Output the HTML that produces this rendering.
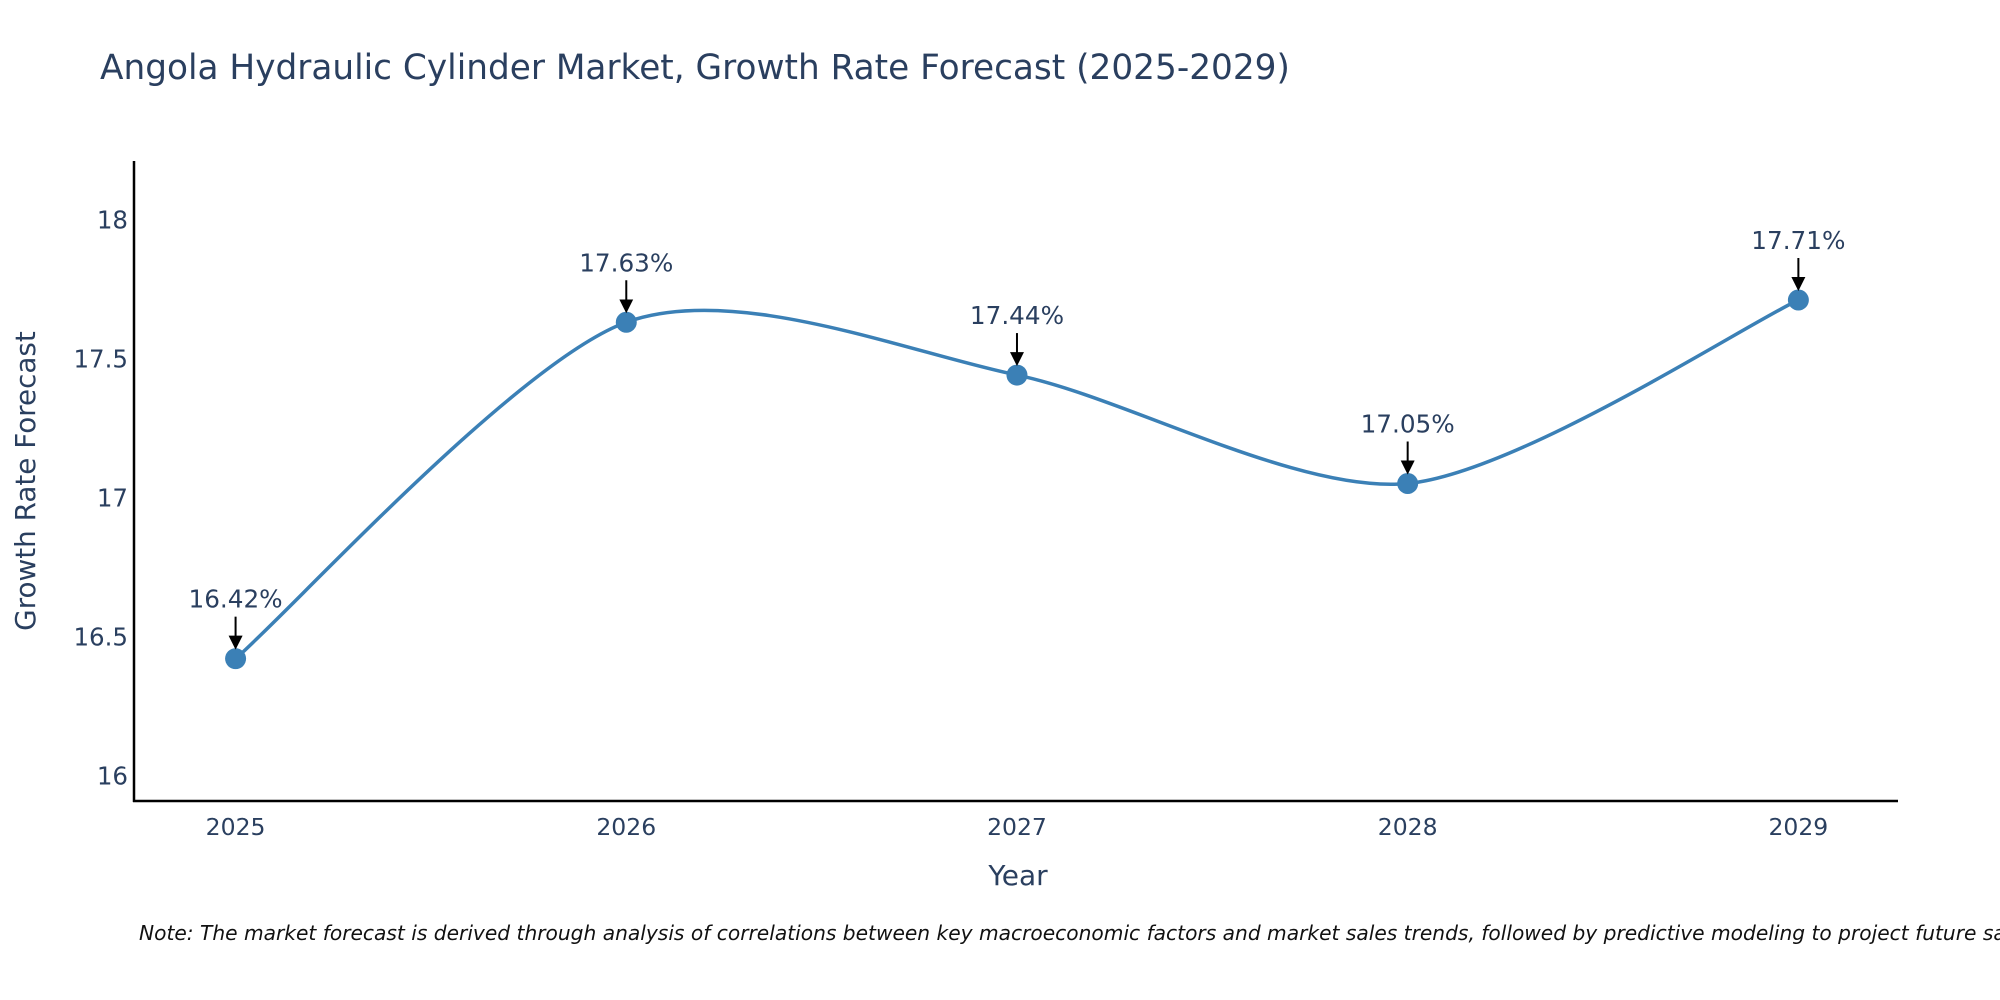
<!DOCTYPE html>
<html><head><meta charset="utf-8">
<style>
html,body{margin:0;padding:0;background:#fff;overflow:hidden;}
svg{display:block;font-family:"DejaVu Sans","Liberation Sans",sans-serif;}
</style></head>
<body>
<svg id="chart" width="2000" height="1000" viewBox="0 0 2000 1000" xmlns="http://www.w3.org/2000/svg">
<text x="100" y="79" font-size="34.3" fill="#2a3f5f">Angola Hydraulic Cylinder Market, Growth Rate Forecast (2025-2029)</text>
<g id="plot"></g>
<line x1="134" y1="161" x2="134" y2="802" stroke="#000" stroke-width="2.5"/>
<line x1="133" y1="801" x2="1898" y2="801" stroke="#000" stroke-width="2.5"/>
<text x="1018" y="885" font-size="28" fill="#2a3f5f" text-anchor="middle">Year</text>
<text transform="translate(35,481) rotate(-90)" font-size="27.8" fill="#2a3f5f" text-anchor="middle">Growth Rate Forecast</text>
<text x="139" y="940" font-size="20.2" font-style="italic" fill="#111">Note: The market forecast is derived through analysis of correlations between key macroeconomic factors and market sales trends, followed by predictive modeling to project future sales.</text>
</svg>
<script>
const years = [2025, 2026, 2027, 2028, 2029];
const values = [16.42, 17.63, 17.44, 17.05, 17.71];
const labels = ["16.42%", "17.63%", "17.44%", "17.05%", "17.71%"];
const yTicks = [16, 16.5, 17, 17.5, 18];
const yTickLabels = ["16", "16.5", "17", "17.5", "18"];

const NS = "http://www.w3.org/2000/svg";
const X0 = 2024.74, X1 = 2029.255, PX0 = 134, PX1 = 1898;
const Y0 = 15.908, Y1 = 18.21, PY0 = 801, PY1 = 161;
const xs = v => PX0 + (v - X0) / (X1 - X0) * (PX1 - PX0);
const ys = v => PY0 + (v - Y0) / (Y1 - Y0) * (PY1 - PY0);
const plot = document.getElementById("plot");
function mk(tag, attrs) { const e = document.createElementNS(NS, tag); for (const k in attrs) e.setAttribute(k, attrs[k]); plot.appendChild(e); return e; }

yTicks.forEach((t, i) => {
  const e = mk("text", {x: 128, y: ys(t) + 9, "font-size": 24.5, fill: "#2a3f5f", "text-anchor": "end"});
  
  
  e.textContent = yTickLabels[i];
});
years.forEach(y => {
  const e = mk("text", {x: xs(y), y: 835, "font-size": 23.5, fill: "#2a3f5f", "text-anchor": "middle"});
  
  
  e.textContent = String(y);
});

const pts = years.map((y, i) => [xs(y), ys(values[i])]);
let d = "M" + pts[0][0] + "," + pts[0][1];
const t = 0.42;
for (let i = 0; i < pts.length - 1; i++) {
  const p0 = pts[i - 1] || pts[i], p1 = pts[i], p2 = pts[i + 1], p3 = pts[i + 2] || pts[i + 1];
  const c1 = [p1[0] + (p2[0] - p0[0]) * t / 3, p1[1] + (p2[1] - p0[1]) * t / 3];
  const c2 = [p2[0] - (p3[0] - p1[0]) * t / 3, p2[1] - (p3[1] - p1[1]) * t / 3];
  d += " C" + c1 + " " + c2 + " " + p2;
}
const line = mk("path", {d: d, fill: "none", stroke: "#3b80b6", "stroke-width": 3.5});



mk("defs", {}).innerHTML = '<marker id="ah" markerWidth="7" markerHeight="7" refX="6" refY="3.5" orient="auto" markerUnits="strokeWidth"><path d="M0,0 L7,3.5 L0,7 z" fill="#000"/></marker>';

pts.forEach((p, i) => {
  const c = mk("circle", {cx: p[0], cy: p[1], r: 10.5, fill: "#3b80b6"});
  
  
  const a = mk("line", {x1: p[0], y1: p[1] - 42, x2: p[0], y2: p[1] - 11, stroke: "#000", "stroke-width": 2, "marker-end": "url(#ah)"});
  
  
  const tx = mk("text", {x: p[0], y: p[1] - 51, "font-size": 24.7, fill: "#2a3f5f", "text-anchor": "middle"});
  
  
  tx.textContent = labels[i];
});
</script>
</body></html>
